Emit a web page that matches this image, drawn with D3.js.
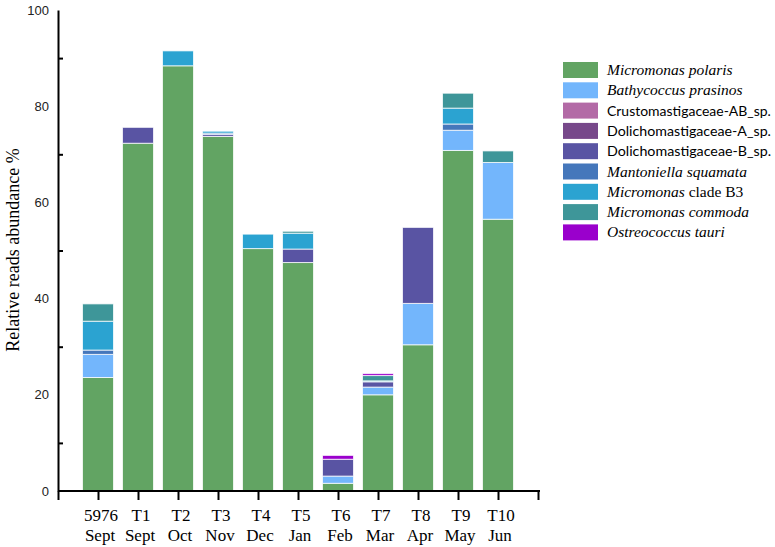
<!DOCTYPE html>
<html>
<head>
<meta charset="utf-8">
<script src="https://cdn.jsdelivr.net/npm/d3@7"></script>
<style>
  html, body { margin: 0; padding: 0; background: #fff; }
  svg { display: block; }
</style>
</head>
<body>
<svg id="chart" width="775" height="547"></svg>
<script>
// ---- data ----
const samples = ["5976", "T1", "T2", "T3", "T4", "T5", "T6", "T7", "T8", "T9", "T10"];
const months  = ["Sept", "Sept", "Oct", "Nov", "Dec", "Jan", "Feb", "Mar", "Apr", "May", "Jun"];
const species = ["Micromonas polaris", "Bathycoccus prasinos", "Crustomastigaceae-AB_sp.",
  "Dolichomastigaceae-A_sp.", "Dolichomastigaceae-B_sp.", "Mantoniella squamata",
  "Micromonas clade B3", "Micromonas commoda", "Ostreococcus tauri"];
const colors = ["#62a463", "#73b6fc", "#b36aa6", "#77488a", "#5954a3", "#4577bb", "#2ba3d1", "#3e9699", "#9a00cc"];
// values per species (one per sample, % relative reads abundance)
const micromonasPolaris   = [23.6, 72.3, 88.4, 73.7, 50.4, 47.5, 1.6, 20.0, 30.4, 70.8, 56.5];
const bathycoccusPrasinos = [4.8, 0, 0, 0, 0, 0, 1.5, 1.6, 8.6, 4.2, 11.8];
const crustomastigaceaeAB = [0, 0, 0, 0, 0, 0, 0, 0, 0, 0, 0];
const dolichomastigaceaeA = [0, 0, 0, 0, 0, 0, 0, 0, 0, 0, 0];
const dolichomastigaceaeB = [0, 3.3, 0, 0.4, 0, 2.8, 3.5, 1.1, 15.8, 0, 0];
const mantoniellaSquamata = [0.9, 0, 0, 0.3, 0, 0, 0, 0, 0, 1.3, 0];
const micromonasCladeB3   = [6.0, 0, 3.1, 0.4, 3.0, 3.3, 0, 0.2, 0, 3.3, 0];
const micromonasCommoda   = [3.6, 0, 0, 0, 0, 0.4, 0, 1.1, 0, 3.1, 2.4];
const ostreococcusTauri   = [0, 0, 0, 0, 0, 0, 0.8, 0.4, 0, 0, 0];
const yTicks = [0, 20, 40, 60, 80, 100];
const yMinorTicks = [10, 30, 50, 70, 90];

const seriesValues = [micromonasPolaris, bathycoccusPrasinos, crustomastigaceaeAB, dolichomastigaceaeA,
  dolichomastigaceaeB, mantoniellaSquamata, micromonasCladeB3, micromonasCommoda, ostreococcusTauri];

const table = samples.map((s, i) => {
  const row = { sample: s, idx: i };
  species.forEach((sp, j) => row[sp] = seriesValues[j][i]);
  return row;
});

const SERIF = "'Liberation Serif', 'Times New Roman', Times, serif";
const SANS = "Lato, 'Open Sans', sans-serif";

const svg = d3.select("#chart");
const x = d3.scaleLinear().domain([0, 12]).range([58, 538]);
const y = d3.scaleLinear().domain([0, 100]).range([491, 10]);
const color = d3.scaleOrdinal().domain(species).range(colors);
const barW = 31;

const stacked = d3.stack().keys(species)(table);

svg.append("g").selectAll("g")
  .data(stacked).join("g")
  .attr("fill", d => color(d.key))
  .selectAll("rect")
  .data(d => d.filter(p => p[1] - p[0] > 0))
  .join("rect")
  .attr("x", d => x(d.data.idx + 1) - barW / 2)
  .attr("width", barW)
  .attr("y", d => y(d[1]))
  .attr("height", d => y(d[0]) - y(d[1]))
  .attr("stroke", "#ffffff")
  .attr("stroke-opacity", 0.75)
  .attr("stroke-width", 1);

// x axis
const xAxis = svg.append("g")
  .attr("transform", `translate(0,${y(0)})`)
  .call(d3.axisBottom(x).tickValues(d3.range(0, 13)).tickSize(9).tickSizeOuter(0).tickFormat(""));
xAxis.select(".domain").attr("stroke", "#000").attr("stroke-width", 2)
  .attr("d", `M${x(0)},0H${x(12) + 2}`);
xAxis.selectAll(".tick line").attr("stroke", "#000").attr("stroke-width", 2);

const xl = svg.append("g")
  .attr("font-family", SERIF)
  .attr("font-size", "17px")
  .attr("fill", "#000");
samples.forEach((s, i) => {
  const t = xl.append("text").attr("text-anchor", "middle")
    .attr("x", x(i + 1) + 2);
  t.append("tspan").attr("x", x(i + 1) + 3).attr("y", 521).text(s);
  t.append("tspan").attr("x", x(i + 1) + 2).attr("y", 541).text(months[i]);
});

// y axis
const yAxis = svg.append("g")
  .attr("transform", `translate(${x(0)},0)`)
  .call(d3.axisLeft(y).tickValues(yTicks).tickSize(0).tickPadding(9).tickSizeOuter(0));
yAxis.select(".domain").attr("stroke", "#000").attr("stroke-width", 2);
yAxis.selectAll(".tick text")
  .attr("font-family", "'Liberation Sans', Arial, sans-serif")
  .attr("font-size", "13px")
  .attr("fill", "#222");
const yMinor = svg.append("g")
  .attr("transform", `translate(${x(0)},0)`)
  .call(d3.axisRight(y).tickValues(yMinorTicks).tickSize(5).tickSizeOuter(0).tickFormat(""));
yMinor.select(".domain").remove();
yMinor.selectAll(".tick line").attr("stroke", "#000").attr("stroke-width", 2);

svg.append("text")
  .attr("transform", `translate(19,250) rotate(-90)`)
  .attr("text-anchor", "middle")
  .attr("font-family", SERIF)
  .attr("font-size", "18px")
  .attr("fill", "#000")
  .text("Relative reads abundance %");

// legend
const legend = svg.append("g");
const legendStyle = [
  [{ t: "Micromonas polaris", i: true }],
  [{ t: "Bathycoccus prasinos", i: true }],
  [{ t: "Crustomastigaceae-AB_sp.", s: true }],
  [{ t: "Dolichomastigaceae-A_sp.", s: true }],
  [{ t: "Dolichomastigaceae-B_sp.", s: true }],
  [{ t: "Mantoniella squamata", i: true }],
  [{ t: "Micromonas", i: true }, { t: " clade B3", i: false }],
  [{ t: "Micromonas commoda", i: true }],
  [{ t: "Ostreococcus tauri", i: true }]
];
species.forEach((sp, k) => {
  const yy = 62 + k * 20.3;
  legend.append("rect")
    .attr("x", 563).attr("y", yy).attr("width", 35).attr("height", 16)
    .attr("fill", color(sp));
  const isSans = !!legendStyle[k][0].s;
  const t = legend.append("text")
    .attr("x", 607).attr("y", yy + 13)
    .attr("font-family", isSans ? SANS : SERIF)
    .attr("font-size", isSans ? "15px" : "15.5px")
    .attr("fill", "#000");
  legendStyle[k].forEach(part => {
    const ts = t.append("tspan").text(part.t);
    if (!part.s) ts.attr("font-style", part.i ? "italic" : "normal");
  });
  // sans entries: fit to the width seen in the reference (~164px)
  if (isSans) {
    const w = t.node().getComputedTextLength();
    t.attr("font-size", (15 * 164 / w).toFixed(2) + "px");
  }
});
</script>
</body>
</html>
